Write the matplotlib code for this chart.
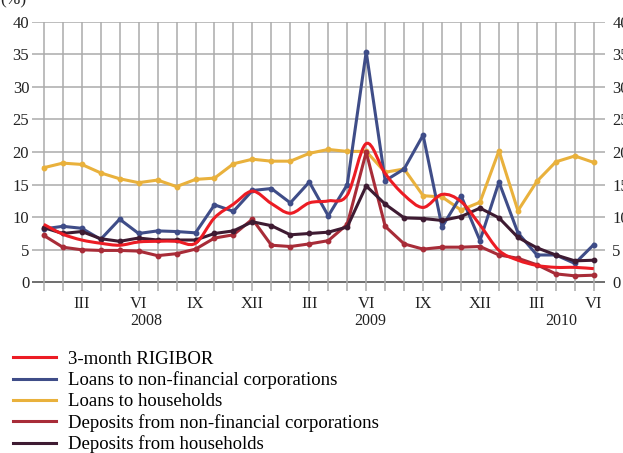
import matplotlib.pyplot as plt
import numpy as np
from matplotlib.path import Path
from matplotlib.patches import PathPatch
from matplotlib.lines import Line2D

plt.rcParams['font.family'] = ['Liberation Serif', 'DejaVu Serif']

# monthly data, Jan 2008 - Jun 2010 (%)
months = np.arange(30)
rigibor = [8.9, 7.4, 6.5, 6.0, 5.7, 6.2, 6.3, 6.3, 6.0, 9.9,
           12.0, 14.0, 12.1, 10.6, 12.2, 12.5, 13.4, 21.3, 16.7, 13.4,
           11.5, 13.5, 12.4, 8.8, 4.9, 3.4, 2.6, 2.3, 2.3, 2.1]
loans_nfc = [8.2, 8.6, 8.3, 6.6, 9.7, 7.5, 7.9, 7.8, 7.6, 11.9,
             10.9, 14.1, 14.4, 12.2, 15.4, 10.2, 15.0, 35.4, 15.6, 17.4,
             22.6, 8.5, 13.3, 6.4, 15.4, 7.6, 4.2, 4.2, 2.9, 5.8]
loans_hh = [17.6, 18.3, 18.1, 16.8, 15.9, 15.3, 15.7, 14.7, 15.8, 16.0,
            18.2, 18.9, 18.6, 18.6, 19.8, 20.4, 20.1, 20.1, 16.9, 17.4,
            13.3, 13.1, 11.1, 12.3, 20.2, 11.0, 15.5, 18.5, 19.4, 18.4]
dep_nfc = [7.2, 5.4, 5.0, 4.9, 4.9, 4.8, 4.1, 4.4, 5.1, 6.8,
           7.3, 9.7, 5.7, 5.5, 5.9, 6.4, 8.9, 20.0, 8.6, 5.9,
           5.1, 5.4, 5.4, 5.5, 4.2, 3.7, 2.7, 1.3, 1.0, 1.1]
dep_hh = [8.4, 7.5, 7.8, 6.7, 6.3, 6.8, 6.5, 6.5, 6.5, 7.5,
          7.9, 9.3, 8.7, 7.3, 7.5, 7.7, 8.5, 14.8, 12.0, 9.9,
          9.8, 9.5, 10.1, 11.4, 9.9, 6.9, 5.3, 4.2, 3.3, 3.4]

quarter_idx = [2, 5, 8, 11, 14, 17, 20, 23, 26, 29]
quarter_labels = ['III', 'VI', 'IX', 'XII'] * 2 + ['III', 'VI']
years = ['2008', '2009', '2010']
year_pos = [5.4, 17.2, 27.3]

labels = ['3-month RIGIBOR', 'Loans to non-financial corporations',
          'Loans to households', 'Deposits from non-financial corporations',
          'Deposits from households']
colors = ['#ec1c24', '#3f4d88', '#e9b13c', '#a82c38', '#3e1b32']


def smooth_path(x, y):
    # Catmull-Rom -> cubic bezier segments
    pts = np.column_stack([x, y]).astype(float)
    verts = [pts[0]]
    codes = [Path.MOVETO]
    n = len(pts)
    for i in range(n - 1):
        p0 = pts[i - 1] if i > 0 else pts[i]
        p1, p2 = pts[i], pts[i + 1]
        p3 = pts[i + 2] if i + 2 < n else pts[i + 1]
        c1 = p1 + (p2 - p0) / 6
        c2 = p2 - (p3 - p1) / 6
        verts += [c1, c2, p2]
        codes += [Path.CURVE4] * 3
    return Path(verts, codes)


fig = plt.figure(figsize=(6.23, 4.53), dpi=100)
ax = fig.add_axes([0.0514, 0.358, 0.92, 0.594])
ymin = -1.3
ax.set_xlim(-0.62, 29.6)
ax.set_ylim(ymin, 40)

for v in range(5, 45, 5):
    ax.axhline(v, color='#ababab', lw=1.1, zorder=1)
ax.axhline(0, color='#555555', lw=1.2, zorder=1)
ax.vlines(months, ymin, 40, color='#ababab', lw=1.1, zorder=1)

series = [loans_hh, loans_nfc, dep_nfc, dep_hh]
scol = [colors[2], colors[1], colors[3], colors[4]]
for s, c in zip(series, scol):
    ax.plot(months, s, color=c, lw=2.2, marker='o', ms=3.2, zorder=3)
ax.add_patch(PathPatch(smooth_path(months, rigibor), fill=False,
                       edgecolor=colors[0], lw=2.2, zorder=4))

for sp in ax.spines.values():
    sp.set_visible(False)
ax.set_yticks(range(0, 45, 5))
ax.tick_params(axis='y', length=0, labelsize=12, pad=2, colors='#222222')
ax.set_xticks(quarter_idx)
ax.set_xticklabels(quarter_labels)
ax.tick_params(axis='x', length=0, labelsize=12, pad=4, colors='#222222')

ax2 = ax.twinx()
ax2.set_ylim(ax.get_ylim())
ax2.set_yticks(range(0, 45, 5))
ax2.tick_params(axis='y', length=0, labelsize=12, pad=5, colors='#222222')
for sp in ax2.spines.values():
    sp.set_visible(False)

for yr, p in zip(years, year_pos):
    ax.text(p, -5.9, yr, ha='center', va='center', fontsize=11.5,
            color='#222222')

fig.text(0.0, 1.0, '(%)', ha='left', va='center', fontsize=12.5,
         color='#222222')

handles = [Line2D([], [], color=c, lw=2.2) for c in colors]
fig.legend(handles, labels, loc='upper left', bbox_to_anchor=(0.0, 0.255),
           frameon=False, fontsize=13.5, handlelength=2.3,
           labelspacing=0.2, handletextpad=0.6, borderaxespad=0.3)

fig.savefig('out.png', dpi=100)
